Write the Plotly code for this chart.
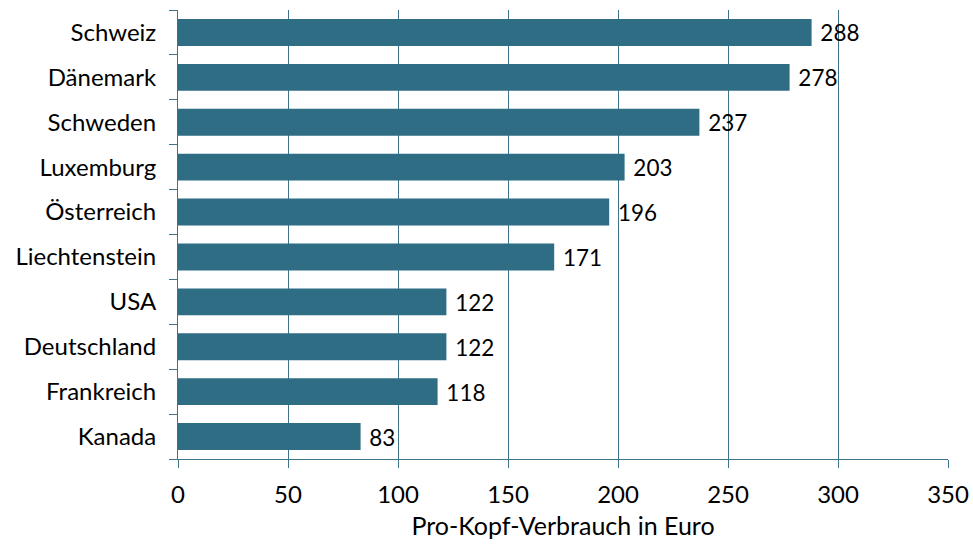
import plotly.graph_objects as go

countries = ["Schweiz", "Dänemark", "Schweden", "Luxemburg", "Österreich",
             "Liechtenstein", "USA", "Deutschland", "Frankreich", "Kanada"]
values = [288, 278, 237, 203, 196, 171, 122, 122, 118, 83]
x_ticks = [0, 50, 100, 150, 200, 250, 300, 350]

bar_color = "#2f6d85"
line_color = "#3f7389"
font = "Lato, 'Open Sans', sans-serif"

fig = go.Figure(go.Bar(
    x=values, y=countries, orientation="h",
    marker=dict(color=bar_color, line=dict(width=0)),
    text=values, texttemplate=" %{x}", textposition="outside",
    textfont=dict(size=25, color="#000000", family=font),
    cliponaxis=False,
))

fig.update_layout(
    width=973, height=544,
    margin=dict(l=178, r=25, t=10, b=85),
    plot_bgcolor="white", paper_bgcolor="white",
    bargap=0.4,
    showlegend=False,
    font=dict(family=font, size=25, color="#000000"),
)
fig.update_xaxes(
    range=[0, 350], tickvals=x_ticks, ticktext=[str(v) for v in x_ticks],
    showgrid=True, gridcolor=line_color, gridwidth=1,
    showline=True, linecolor=line_color, linewidth=1,
    ticks="outside", ticklen=8, tickcolor=line_color,
    zeroline=False, automargin=False,
    tickfont=dict(size=24),
    ticklabelstandoff=6,
    title=dict(text="Pro-Kopf-Verbrauch in Euro", font=dict(size=25), standoff=10),
)
fig.update_yaxes(
    categoryorder="array", categoryarray=countries[::-1],
    autorange=False, range=[-0.5, 9.5],
    showline=True, linecolor=line_color, linewidth=1,
    ticks="outside", ticklen=8, tickcolor=line_color, tickson="boundaries",
    showgrid=False, automargin=False,
    tickfont=dict(size=24),
    ticklabelstandoff=16,
)

# remove the browser's default 8px body margin so the figure fills the window
fig.write_html(
    "out.html",
    config={"displayModeBar": False},
    post_script="document.body.style.margin='0';document.body.style.overflow='hidden';",
)
